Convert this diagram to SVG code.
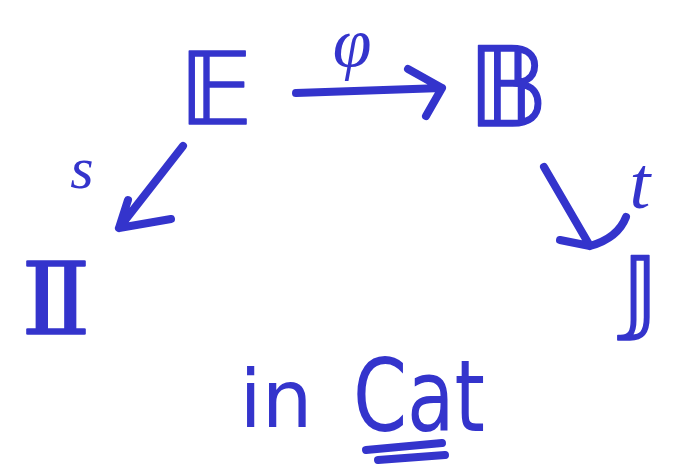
<svg xmlns="http://www.w3.org/2000/svg" width="683" height="466" viewBox="0 0 683 466">
<style>
.t{font-family:"DejaVu Sans",sans-serif;fill:#3434CC}
.bb{stroke:#3434CC;stroke-width:1.5;stroke-linejoin:round}
.lbl{font-family:"Liberation Serif",serif;font-style:italic;fill:#3434CC}
.c{fill:none;stroke:#3434CC;stroke-width:8;stroke-linecap:round;stroke-linejoin:round}
</style>
<rect width="683" height="466" fill="#fff"/>
<g id="node-E"><text class="t bb" x="216" y="124" font-size="100" text-anchor="middle">𝔼</text></g>
<g id="node-B"><text class="t bb" x="508" y="126" font-size="110" text-anchor="middle">𝔹</text></g>
<g id="node-I"><text class="t bb" x="18" y="334" font-size="100" textLength="76" lengthAdjust="spacingAndGlyphs">𝕀</text></g>
<g id="node-J"><text class="t bb" x="640" y="322" font-size="90" text-anchor="middle">𝕁</text></g>
<g id="connectors">
<g id="edge-phi"><path class="c" d="M296,93 L442,88 M408,69 L442,88 L426,116"/><text class="lbl" x="352" y="66" font-size="70" text-anchor="middle">φ</text></g>
<g id="edge-s"><path class="c" d="M183,146 L119,228 M128,200 L119,228 L171,219"/><text class="lbl" x="82" y="188" font-size="60" text-anchor="middle">s</text></g>
<g id="edge-t"><path class="c" d="M544,167 L590,246 M560,240 L590,246 Q618,238 626,217"/><text class="lbl" x="640" y="208" font-size="75" text-anchor="middle">t</text></g>
</g>
<g id="caption">
<text class="t" x="276" y="427" font-size="80" text-anchor="middle">in</text>
<text class="t" x="353" y="431" font-size="100" textLength="132" lengthAdjust="spacingAndGlyphs">Cat</text>
<path class="c" d="M366,450 L442,443 M378,460 L445,455"/>
</g>
</svg>
